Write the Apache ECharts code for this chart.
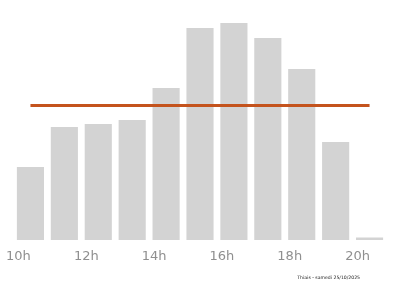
<!DOCTYPE html>
<html>
<head>
<meta charset="utf-8">
<script src="https://cdn.jsdelivr.net/npm/echarts@6/dist/echarts.min.js"></script>
<style>html,body{margin:0;padding:0;background:#fff}#c{width:400px;height:286px}</style>
</head>
<body>
<div id="c"></div>
<script>
var categories = ['10h','11h','12h','13h','14h','15h','16h','17h','18h','19h','20h'];
var frequentation = [73, 113, 116, 120, 152, 212, 217, 202, 171, 98, 2.5];
var moyenne = [134.5, 134.5, 134.5, 134.5, 134.5, 134.5, 134.5, 134.5, 134.5, 134.5, 134.5];
var footer = 'Thiais - samedi 25/10/2025';

var chart = echarts.init(document.getElementById('c'), null, {renderer: 'canvas'});
chart.setOption({
  animation: false,
  grid: {left: 13.5, right: 13.5, top: 0, bottom: 46},
  xAxis: {
    type: 'category',
    data: categories,
    axisLine: {show: false},
    axisTick: {show: false},
    axisLabel: {
      interval: 1,
      color: '#8f8f8f',
      fontFamily: 'DejaVu Sans',
      fontSize: 13,
      margin: 10,
      padding: [0, 24, 0, 0]
    }
  },
  yAxis: {
    type: 'value',
    min: 0,
    max: 240,
    show: false,
    splitLine: {show: false}
  },
  series: [
    {
      type: 'bar',
      data: frequentation,
      barCategoryGap: '20%',
      itemStyle: {color: '#d3d3d3'}
    },
    {
      type: 'line',
      data: moyenne,
      symbol: 'none',
      lineStyle: {color: '#c4531d', width: 3},
      z: 5
    }
  ],
  graphic: [{
    type: 'text',
    right: 40,
    top: 275,
    style: {text: footer, font: '4.6px "DejaVu Sans"', fill: '#222'}
  }]
});
</script>
</body>
</html>
